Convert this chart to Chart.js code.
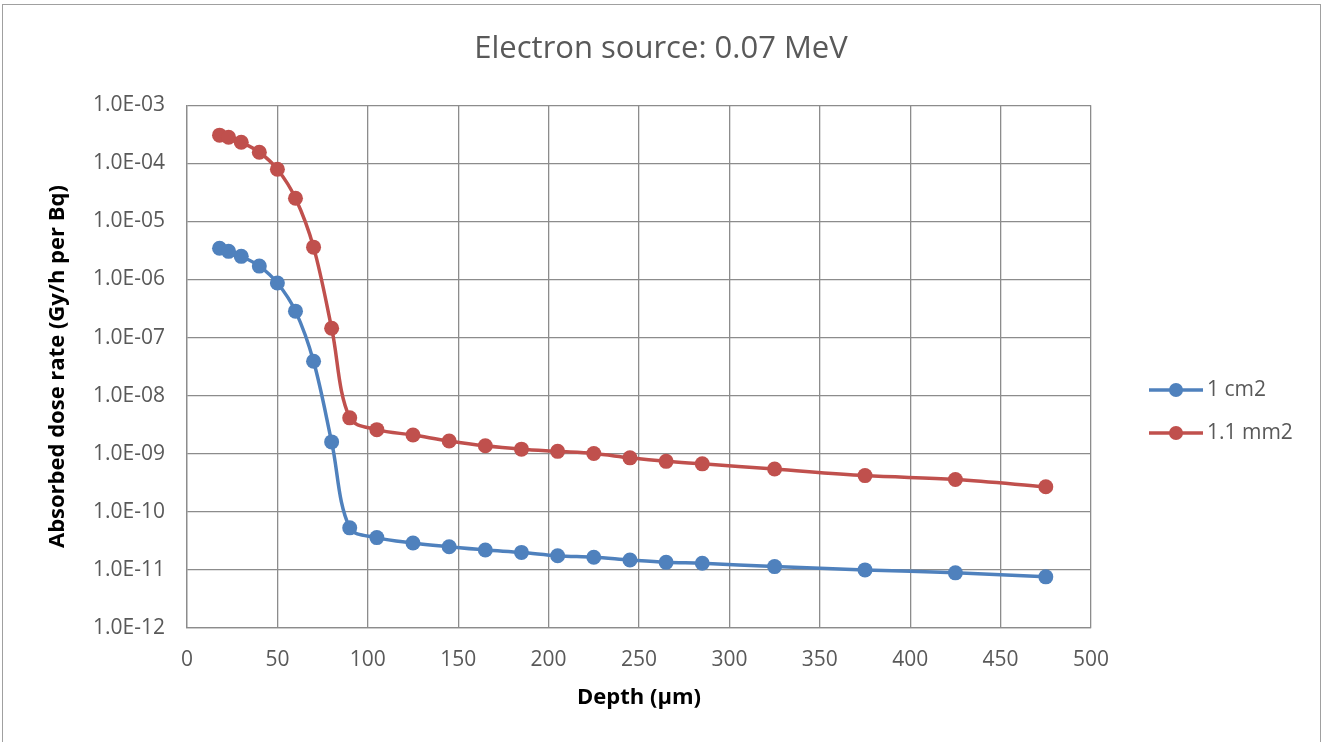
<!DOCTYPE html>
<html>
<head>
<meta charset="utf-8">
<script src="https://cdn.jsdelivr.net/npm/chart.js@4.4.1/dist/chart.umd.min.js"></script>
<style>
  body { margin: 0; background: #fff; }
  #wrap { width: 1322px; height: 742px; position: relative; }
</style>
</head>
<body>
<div id="wrap"><canvas id="dosechart"></canvas></div>
<script>
// depth in micrometres
const depth = [18, 23, 30, 40, 50, 60, 70, 80, 90, 105, 125, 145, 165, 185, 205, 225, 245, 265, 285, 325, 375, 425, 475]

// absorbed dose rate, Gy/h per Bq
const dose_1cm2 = [3.45e-6, 3.05e-6, 2.5e-6, 1.7e-6, 8.7e-7, 2.85e-7, 3.9e-8, 1.6e-9, 5.3e-11, 3.6e-11, 2.9e-11, 2.5e-11, 2.2e-11, 2.0e-11, 1.75e-11, 1.65e-11, 1.48e-11, 1.35e-11, 1.3e-11, 1.14e-11, 1.0e-11, 8.9e-12, 7.6e-12]
const dose_11mm2 = [3.05e-4, 2.8e-4, 2.3e-4, 1.55e-4, 7.9e-5, 2.5e-5, 3.6e-6, 1.45e-7, 4.15e-9, 2.6e-9, 2.1e-9, 1.66e-9, 1.37e-9, 1.2e-9, 1.1e-9, 1.01e-9, 8.5e-10, 7.4e-10, 6.7e-10, 5.45e-10, 4.2e-10, 3.6e-10, 2.7e-10]

const series_names = ['1 cm2', '1.1 mm2']
const series_colors = ['#4F81BD', '#C0504D']

const y_ticks = [1e-12, 1e-11, 1e-10, 1e-9, 1e-8, 1e-7, 1e-6, 1e-5, 1e-4, 1e-3]
const y_tick_labels = ['1.0E-12', '1.0E-11', '1.0E-10', '1.0E-09', '1.0E-08', '1.0E-07', '1.0E-06', '1.0E-05', '1.0E-04', '1.0E-03']

const text_color = '#595959'
const grid_color = '#8c8c8c'
const font_family = '"Open Sans", "Liberation Sans", sans-serif'

function make_points(ys){
    return depth.map((d, i) => ({x: d, y: ys[i]}))
}

// frame round the whole chart, like the office chart box
const frame_plugin = {
    id: 'frame',
    beforeDraw(chart){
        let ctx = chart.ctx
        ctx.save()
        ctx.fillStyle = '#fff'
        ctx.fillRect(0, 0, chart.width, chart.height)
        ctx.strokeStyle = '#a0a0a0'
        ctx.lineWidth = 1
        ctx.strokeRect(2.5, 4.5, chart.width - 4, chart.height + 10)
        ctx.restore()
    }
}

// legend: short line with a dot, text to the right
const line_legend = {
    id: 'lineLegend',
    afterDraw(chart){
        let ctx = chart.ctx
        ctx.save()
        chart.data.datasets.forEach((ds, i) => {
            let y = 390 + i * 43
            ctx.strokeStyle = ds.borderColor
            ctx.lineWidth = 3.5
            ctx.beginPath()
            ctx.moveTo(1149, y)
            ctx.lineTo(1203, y)
            ctx.stroke()
            ctx.fillStyle = ds.borderColor
            ctx.beginPath()
            ctx.arc(1176, y, 7, 0, Math.PI * 2)
            ctx.fill()
            ctx.fillStyle = text_color
            ctx.font = '21px ' + font_family
            ctx.textBaseline = 'middle'
            ctx.textAlign = 'left'
            ctx.fillText(ds.label, 1207, y)
        })
        ctx.restore()
    }
}

function setup_chart(){
    let canvas = document.querySelector('#dosechart')
    let datasets = [dose_1cm2, dose_11mm2].map((vals, i) => ({
        label: series_names[i],
        data: make_points(vals),
        borderColor: series_colors[i],
        backgroundColor: series_colors[i],
        borderWidth: 3.5,
        pointRadius: 7.5,
        pointHoverRadius: 7.5,
        pointBorderWidth: 0,
        tension: 0.35,
        fill: false
    }))

    new Chart(canvas, {
        type: 'line',
        data: { datasets: datasets },
        plugins: [frame_plugin, line_legend],
        options: {
            responsive: true,
            maintainAspectRatio: false,
            animation: false,
            layout: { padding: 0 },
            plugins: {
                legend: { display: false },
                tooltip: { enabled: false },
                title: {
                    display: true,
                    text: 'Electron source: 0.07 MeV',
                    color: text_color,
                    font: { family: font_family, size: 31, weight: 'normal' },
                    padding: { top: 31, bottom: 37 }
                }
            },
            scales: {
                x: {
                    type: 'linear',
                    min: 0,
                    max: 500,
                    afterFit: s => { s.height = 114 },
                    ticks: {
                        stepSize: 50,
                        color: text_color,
                        padding: 19,
                        font: { family: font_family, size: 21 }
                    },
                    grid: { color: grid_color, lineWidth: 1.3, drawTicks: false },
                    border: { color: grid_color, width: 1.3 },
                    title: {
                        display: true,
                        text: 'Depth (µm)',
                        color: '#000',
                        font: { family: font_family, size: 22, weight: 'bold' },
                        padding: { top: 0, bottom: 31 }
                    }
                },
                y: {
                    type: 'logarithmic',
                    min: 1e-12,
                    max: 1e-3,
                    afterFit: s => { s.width = 187 },
                    afterBuildTicks: s => { s.ticks = y_ticks.map(v => ({value: v})) },
                    ticks: {
                        color: text_color,
                        padding: 22,
                        font: { family: font_family, size: 21 },
                        callback: (v) => y_tick_labels[y_ticks.findIndex(t => Math.abs(Math.log10(t) - Math.log10(v)) < 1e-6)]
                    },
                    grid: { color: grid_color, lineWidth: 1.3, drawTicks: false },
                    border: { color: grid_color, width: 1.3 },
                    title: {
                        display: true,
                        text: 'Absorbed dose rate (Gy/h per Bq)',
                        color: '#000',
                        font: { family: font_family, size: 22, weight: 'bold' },
                        padding: { top: 45, bottom: 0 }
                    }
                },
                // empty axis on the right only keeps room for the legend
                legendSpace: {
                    type: 'linear',
                    position: 'right',
                    afterFit: s => { s.width = 231 },
                    ticks: { display: false },
                    grid: { display: false },
                    border: { display: false }
                }
            }
        }
    })
}

setup_chart()
</script>
</body>
</html>
